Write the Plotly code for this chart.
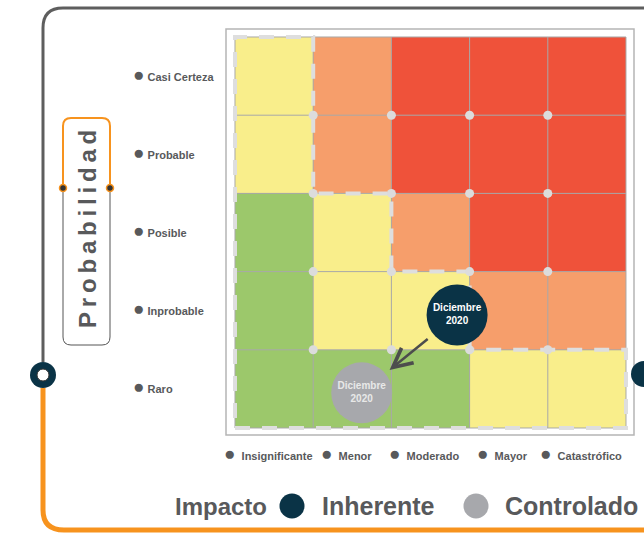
import plotly.graph_objects as go

# Datos de la matriz de riesgo
impacto = ["Insignificante", "Menor", "Moderado", "Mayor", "Catastrófico"]
probabilidad = ["Raro", "Inprobable", "Posible", "Probable", "Casi Certeza"]  # de abajo hacia arriba
nivel = [
    [0, 0, 0, 1, 1],   # Raro
    [0, 1, 1, 2, 2],   # Inprobable
    [0, 1, 2, 3, 3],   # Posible
    [1, 2, 3, 3, 3],   # Probable
    [1, 2, 3, 3, 3],   # Casi Certeza
]
inherente = ("Moderado", "Inprobable")
controlado = ("Menor", "Raro")
fecha = "Diciembre<br>2020"

# Estilos
W, H = 644, 534
GREEN, YELLOW, ORANGE, RED = "#9CC86B", "#F9EE8B", "#F69E6B", "#EF523A"
NAVY, GREY_DOT = "#0A3346", "#A7A8AC"
TEXT = "#58595B"
FONT = "Liberation Sans, Arial, sans-serif"


def px(x):
    return x / W


def py(y):
    return 1 - y / H


def pt(x, y):
    return f"{px(x):.5f},{py(y):.5f}"


GRID_L, GRID_R, GRID_T, GRID_B = 235, 626, 37, 428
cell = (GRID_R - GRID_L) / 5
pad = 0.06
n = len(impacto)

fig = go.Figure()

# Celdas
scale = [[0, GREEN], [0.25, GREEN], [0.25, YELLOW], [0.5, YELLOW],
         [0.5, ORANGE], [0.75, ORANGE], [0.75, RED], [1, RED]]
fig.add_trace(go.Heatmap(z=nivel, x=list(range(n)), y=list(range(n)),
                         colorscale=scale, zmin=-0.5, zmax=3.5,
                         showscale=False, hoverinfo="skip"))

# Lineas de la cuadricula
gx, gy = [], []
for k in range(n + 1):
    b = k - 0.5
    gx += [b, b, None, -0.5, n - 0.5, None]
    gy += [-0.5, n - 0.5, None, b, b, None]
fig.add_trace(go.Scatter(x=gx, y=gy, mode="lines", line=dict(color="#A8A8A8", width=1),
                         hoverinfo="skip", showlegend=False))

# Contorno de la zona aceptable (niveles 0 y 1)
cuenta = []
for fila in nivel:
    c = 0
    for v in fila:
        if v <= 1:
            c += 1
        else:
            break
    cuenta.append(c)
cx, cy = [-0.5], [-0.5]
for r, c in enumerate(cuenta):
    cx += [c - 0.5, c - 0.5]
    cy += [r - 0.5, r + 0.5]
cx += [-0.5, -0.5]
cy += [n - 0.5, -0.5]
fig.add_trace(go.Scatter(x=cx, y=cy, mode="lines",
                         line=dict(color="#DEDEDE", width=4, dash="15px,12px"),
                         hoverinfo="skip", showlegend=False))

# Puntos en las intersecciones
ix = [i + 0.5 for i in range(n - 1) for j in range(n - 1)]
iy = [j + 0.5 for i in range(n - 1) for j in range(n - 1)]
fig.add_trace(go.Scatter(x=ix, y=iy, mode="markers",
                         marker=dict(color="#DCDCDC", size=9),
                         hoverinfo="skip", showlegend=False))

# Posicion de los riesgos
inh_x = impacto.index(inherente[0]) + 0.34
inh_y = probabilidad.index(inherente[1]) - 0.055
con_x = impacto.index(controlado[0]) + 0.12
con_y = probabilidad.index(controlado[1]) - 0.05

fig.add_trace(go.Scatter(x=[con_x], y=[con_y], mode="markers+text", text=[fecha],
                         marker=dict(color=GREY_DOT, size=61),
                         textfont=dict(color="#E8E8E8", size=10, family=FONT, weight="bold"),
                         textposition="middle center", hoverinfo="skip", showlegend=False))
fig.add_trace(go.Scatter(x=[inh_x], y=[inh_y], mode="markers+text", text=[fecha],
                         marker=dict(color=NAVY, size=61),
                         textfont=dict(color="white", size=10, family=FONT, weight="bold"),
                         textposition="middle center", hoverinfo="skip", showlegend=False))

fig.add_annotation(x=con_x, y=con_y, ax=inh_x, ay=inh_y, xref="x", yref="y",
                   axref="x", ayref="y", text="", showarrow=True, arrowhead=5,
                   arrowsize=1.5, arrowwidth=2.5, arrowcolor="#4D4D4D",
                   standoff=36, startstandoff=36)

BULLET = "<span style='font-size:19px'>●</span>"

# Etiquetas de probabilidad
for i, lab in enumerate(probabilidad):
    fig.add_annotation(x=px(131), y=i, xref="paper", yref="y", xanchor="left", yanchor="middle",
                       text=f"{BULLET} {lab}", showarrow=False, yshift=2,
                       font=dict(family=FONT, size=11, color=TEXT, weight="bold"))

# Etiquetas de impacto
for i, lab in enumerate(impacto):
    fig.add_annotation(x=i, y=py(453), xref="x", yref="paper", xanchor="center", yanchor="middle",
                       text=f"{BULLET}  {lab}", showarrow=False, xshift=-6,
                       font=dict(family=FONT, size=11, color=TEXT, weight="bold"))

# Titulo vertical
fig.add_annotation(x=px(87), y=py(229), xref="paper", yref="paper", textangle=-90,
                   xanchor="center", yanchor="middle",
                   text="\u2009".join("Probabilidad"), showarrow=False,
                   font=dict(family=FONT, size=24, color=TEXT, weight="bold"))

# Leyenda
for (xc, lab, size) in [(221, "Impacto", 24), (378, "Inherente", 25), (571, "Controlado", 25)]:
    fig.add_annotation(x=px(xc), y=py(506), xref="paper", yref="paper",
                       xanchor="center", yanchor="middle", text=f"<b>{lab}</b>",
                       showarrow=False, font=dict(family=FONT, size=size, color=TEXT))

shapes = []
# Marco de la grafica
shapes.append(dict(type="rect", xref="paper", yref="paper", x0=px(226), x1=px(634),
                   y0=py(435), y1=py(29), line=dict(color="#B5B5B5", width=1.5), layer="below"))
# Marco exterior
shapes.append(dict(type="path", xref="paper", yref="paper",
                   path=f"M{pt(43,362)} L{pt(43,28)} Q{pt(43,8)} {pt(63,8)} L{pt(670,8)}",
                   line=dict(color="#5E5E5E", width=3)))
shapes.append(dict(type="path", xref="paper", yref="paper",
                   path=f"M{pt(43,388)} L{pt(43,510)} Q{pt(43,530)} {pt(64,530)} L{pt(670,530)}",
                   line=dict(color="#F7931E", width=5)))
for (cxp, cyp) in [(43, 375), (644, 374)]:
    shapes.append(dict(type="circle", xref="paper", yref="paper",
                       x0=px(cxp - 13), x1=px(cxp + 13), y0=py(cyp + 13), y1=py(cyp - 13),
                       fillcolor=NAVY, line=dict(width=0)))
shapes.append(dict(type="circle", xref="paper", yref="paper",
                   x0=px(43 - 6), x1=px(43 + 6), y0=py(375 + 6), y1=py(375 - 6),
                   fillcolor="white", line=dict(color="#333333", width=1)))
# Caja del titulo vertical
shapes.append(dict(type="path", xref="paper", yref="paper",
                   path=f"M{pt(63,188)} L{pt(63,337)} Q{pt(63,345)} {pt(71,345)} L{pt(102,345)} "
                        f"Q{pt(110,345)} {pt(110,337)} L{pt(110,188)}",
                   line=dict(color="#555555", width=1)))
shapes.append(dict(type="path", xref="paper", yref="paper",
                   path=f"M{pt(63,188)} L{pt(63,126)} Q{pt(63,118)} {pt(71,118)} L{pt(102,118)} "
                        f"Q{pt(110,118)} {pt(110,126)} L{pt(110,188)}",
                   line=dict(color="#F7931E", width=2)))
for cxp in [63, 110]:
    shapes.append(dict(type="circle", xref="paper", yref="paper",
                       x0=px(cxp - 3.5), x1=px(cxp + 3.5), y0=py(188 + 3.5), y1=py(188 - 3.5),
                       fillcolor="#333333", line=dict(color="#F7931E", width=1.5)))
# Circulos de la leyenda
for (cxp, col) in [(292, NAVY), (476, GREY_DOT)]:
    shapes.append(dict(type="circle", xref="paper", yref="paper",
                       x0=px(cxp - 12.5), x1=px(cxp + 12.5), y0=py(506 + 12.5), y1=py(506 - 12.5),
                       fillcolor=col, line=dict(width=0)))

fig.update_layout(
    width=W, height=H, margin=dict(l=0, r=0, t=0, b=0),
    paper_bgcolor="white", plot_bgcolor="white", showlegend=False,
    shapes=shapes,
    xaxis=dict(domain=[px(GRID_L - pad * cell), px(GRID_R + pad * cell)],
               range=[-0.5 - pad, n - 0.5 + pad], showgrid=False, zeroline=False,
               showticklabels=False, fixedrange=True),
    yaxis=dict(domain=[py(GRID_B + pad * cell), py(GRID_T - pad * cell)],
               range=[-0.5 - pad, n - 0.5 + pad], showgrid=False, zeroline=False,
               showticklabels=False, fixedrange=True),
)

# sin margen en la pagina para que la figura llene la ventana
fig.write_html("out.html", config={"displayModeBar": False},
               post_script="document.body.style.margin='0';document.body.style.overflow='hidden';")
